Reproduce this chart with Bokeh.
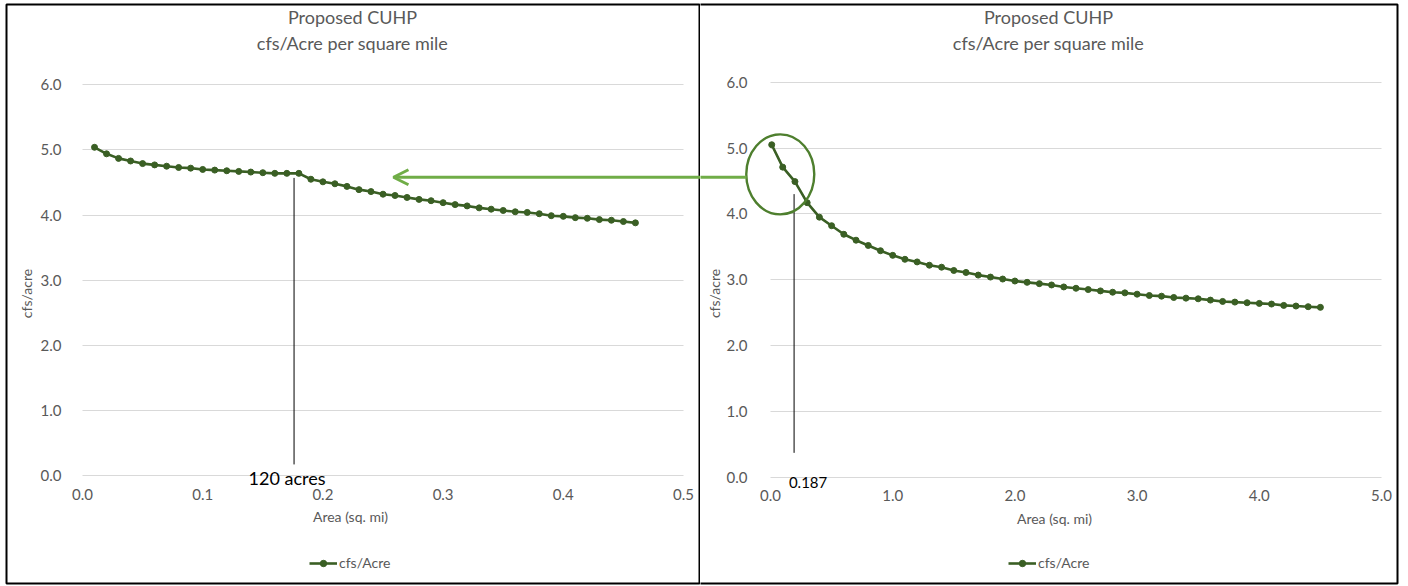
import numpy as np
from bokeh.plotting import figure
from bokeh.layouts import row
from bokeh.models import (ColumnDataSource, FixedTicker, NumeralTickFormatter, Range1d,
                          Legend, LegendItem, Label, Arrow, OpenHead, PolyAnnotation)
from bokeh.embed import file_html
from bokeh.resources import INLINE

# ---------------- data ----------------
title_line1 = "Proposed CUHP"
title_line2 = "cfs/Acre per square mile"
x_axis_title = "Area (sq. mi)"
y_axis_title = "cfs/acre"
series_name = "cfs/Acre"

left_area = [0.01, 0.02, 0.03, 0.04, 0.05, 0.06, 0.07, 0.08, 0.09, 0.10,
             0.11, 0.12, 0.13, 0.14, 0.15, 0.16, 0.17, 0.18, 0.19, 0.20,
             0.21, 0.22, 0.23, 0.24, 0.25, 0.26, 0.27, 0.28, 0.29, 0.30,
             0.31, 0.32, 0.33, 0.34, 0.35, 0.36, 0.37, 0.38, 0.39, 0.40,
             0.41, 0.42, 0.43, 0.44, 0.45, 0.46]
left_cfs = [5.04, 4.94, 4.87, 4.83, 4.79, 4.77, 4.75, 4.73, 4.72, 4.70,
            4.69, 4.68, 4.67, 4.66, 4.65, 4.64, 4.64, 4.64, 4.55, 4.51,
            4.48, 4.44, 4.39, 4.36, 4.32, 4.30, 4.27, 4.24, 4.22, 4.19,
            4.16, 4.14, 4.11, 4.09, 4.07, 4.05, 4.04, 4.02, 3.99, 3.98,
            3.96, 3.95, 3.93, 3.92, 3.90, 3.88]

right_area = [0.01, 0.1, 0.2, 0.3, 0.4, 0.5, 0.6, 0.7, 0.8, 0.9,
              1.0, 1.1, 1.2, 1.3, 1.4, 1.5, 1.6, 1.7, 1.8, 1.9,
              2.0, 2.1, 2.2, 2.3, 2.4, 2.5, 2.6, 2.7, 2.8, 2.9,
              3.0, 3.1, 3.2, 3.3, 3.4, 3.5, 3.6, 3.7, 3.8, 3.9,
              4.0, 4.1, 4.2, 4.3, 4.4, 4.5]
right_cfs = [5.05, 4.71, 4.49, 4.17, 3.95, 3.82, 3.69, 3.60, 3.52, 3.44,
             3.37, 3.31, 3.27, 3.22, 3.19, 3.14, 3.11, 3.07, 3.04, 3.01,
             2.98, 2.96, 2.94, 2.92, 2.89, 2.87, 2.85, 2.83, 2.81, 2.80,
             2.78, 2.76, 2.75, 2.73, 2.72, 2.71, 2.69, 2.67, 2.66, 2.65,
             2.64, 2.63, 2.61, 2.60, 2.59, 2.58]

left_x_ticks = [0.0, 0.1, 0.2, 0.3, 0.4, 0.5]
right_x_ticks = [0.0, 1.0, 2.0, 3.0, 4.0, 5.0]
y_ticks = [0.0, 1.0, 2.0, 3.0, 4.0, 5.0, 6.0]

left_callout_text = "120 acres"
left_callout_x = 0.176
left_callout_top = 4.57
right_callout_text = "0.187"
right_callout_x = 0.193
right_callout_top = 4.30

# ---------------- style ----------------
FONT = "Lato"
GREY = "#595959"
GRID = "#D9D9D9"
LINE_GREEN = "#3A5F24"
ARROW_GREEN = "#70AD47"
ELLIPSE_GREEN = "#4E7F2E"
H = 586


def make_chart(area, cfs, xticks, xmax, width, px0, px1, py6, py0, ylab_standoff, ylab_title_standoff):
    """px0/px1: canvas x of data 0 / xmax ; py6/py0: canvas y of 6 / 0."""
    xs = (px1 - px0) / xmax
    ys = (py0 - py6) / 6.0
    xr = Range1d(-px0 / xs, xmax + (width - px1) / xs)
    yr = Range1d(-(H - py0) / ys, 6 + py6 / ys)
    p = figure(width=width, height=H, output_backend="svg", toolbar_location=None,
               x_range=xr, y_range=yr,
               min_border_left=0, min_border_right=0, min_border_top=0, min_border_bottom=0)
    p.outline_line_color = None
    p.background_fill_color = "white"
    p.border_fill_color = "white"

    src = ColumnDataSource(dict(x=area, y=cfs))
    ln = p.line("x", "y", source=src, line_color=LINE_GREEN, line_width=2.6)
    sc = p.scatter("x", "y", source=src, size=6, fill_color=LINE_GREEN,
                   line_color=LINE_GREEN)

    p.xaxis.ticker = FixedTicker(ticks=xticks)
    p.yaxis.ticker = FixedTicker(ticks=y_ticks)
    p.xaxis.formatter = NumeralTickFormatter(format="0.0")
    p.yaxis.formatter = NumeralTickFormatter(format="0.0")
    for ax in (p.xaxis[0], p.yaxis[0]):
        ax.axis_line_color = None
        ax.major_tick_line_color = None
        ax.minor_tick_line_color = None
        ax.major_label_text_font = FONT
        ax.major_label_text_font_size = "15px"
        ax.major_label_text_color = GREY
        ax.axis_label_text_font = FONT
        ax.axis_label_text_font_size = "14px"
        ax.axis_label_text_color = GREY
        ax.axis_label_text_font_style = "normal"
        ax.fixed_location = 0
    p.xaxis.axis_label = x_axis_title
    p.yaxis.axis_label = y_axis_title
    p.xaxis.major_label_standoff = 7
    p.xaxis.axis_label_standoff = 5
    p.yaxis.major_label_standoff = ylab_standoff
    p.yaxis.axis_label_standoff = ylab_title_standoff
    p.xgrid.grid_line_color = None
    p.ygrid.grid_line_color = GRID
    p.ygrid.grid_line_width = 1.2
    p.ygrid.cross_bounds = (0, xmax)

    legend = Legend(items=[LegendItem(label=series_name, renderers=[ln, sc])],
                    location=(0, 0), orientation="horizontal",
                    label_text_font=FONT, label_text_font_size="14px",
                    label_text_color=GREY, border_line_color=None,
                    background_fill_alpha=0, padding=0, margin=0,
                    glyph_width=28, glyph_height=16, label_height=16,
                    label_standoff=2)
    p.add_layout(legend, "center")
    return p, legend


# left chart canvas 0..700 ; right chart canvas 700..1408
left, left_leg = make_chart(left_area, left_cfs, left_x_ticks, 0.5, 700,
                            82, 683, 84.3, 475, 15, 3)
right, right_leg = make_chart(right_area, right_cfs, right_x_ticks, 5.0, 708,
                              70, 681, 81.7, 476.7, 17, 1)

# legends: bottom-left corner in frame px (y measured from bottom)
left_leg.location = (309, H - 571)
right_leg.location = (308, H - 571)


def add_titles(p, cx):
    for txt, ty in ((title_line1, 16), (title_line2, 42)):
        p.add_layout(Label(x=cx, y=H - ty, x_units="screen", y_units="screen",
                           text=txt, text_font=FONT, text_font_size="18px",
                           text_color=GREY, text_align="center",
                           text_baseline="middle"))


add_titles(left, 352)
add_titles(right, 348)


def add_border(p, x0, x1, y_top, y_bot):
    p.add_layout(PolyAnnotation(xs=[x0, x1, x1, x0], ys=[H - y_top, H - y_top, H - y_bot, H - y_bot],
                                xs_units="screen", ys_units="screen",
                                fill_alpha=0, line_color="black", line_alpha=1.0,
                                line_width=2))


add_border(left, 6, 699, 4, 583)
add_border(right, -5, 697, 4, 583)

# callout lines and labels
left.segment(x0=[left_callout_x], y0=[0.17], x1=[left_callout_x], y1=[left_callout_top],
             line_color="black", line_width=1)
left.add_layout(Label(x=left_callout_x, y=H - 477, y_units="screen", x_offset=-7,
                      text=left_callout_text, text_font=FONT, text_font_size="18px",
                      text_color="black", text_align="center", text_baseline="middle"))
right.segment(x0=[right_callout_x], y0=[0.37], x1=[right_callout_x], y1=[right_callout_top],
              line_color="black", line_width=1)
right.add_layout(Label(x=right_callout_x, y=H - 482, y_units="screen", x_offset=14,
                       text=right_callout_text, text_font=FONT, text_font_size="15px",
                       text_color="black", text_align="center", text_baseline="middle"))

# ellipse around the first points of the right chart
right.ellipse(x=[0.08], y=[4.6], width=68, height=80, width_units="screen",
              height_units="screen", fill_alpha=0, line_color=ELLIPSE_GREEN, line_width=2.4)

# arrow from the ellipse to the left chart
right.add_layout(Arrow(end=None, x_start=-0.196, y_start=4.557, x_end=-0.7, y_end=4.557,
                       line_color=ARROW_GREEN, line_width=3))
left.add_layout(Arrow(end=OpenHead(size=15, line_color=ARROW_GREEN, line_width=3),
                      x_start=0.6, y_start=4.58, x_end=0.2587, y_end=4.58,
                      line_color=ARROW_GREEN, line_width=3))

layout = row(left, right, spacing=0)
open("out.html", "w").write(file_html(layout, INLINE))
